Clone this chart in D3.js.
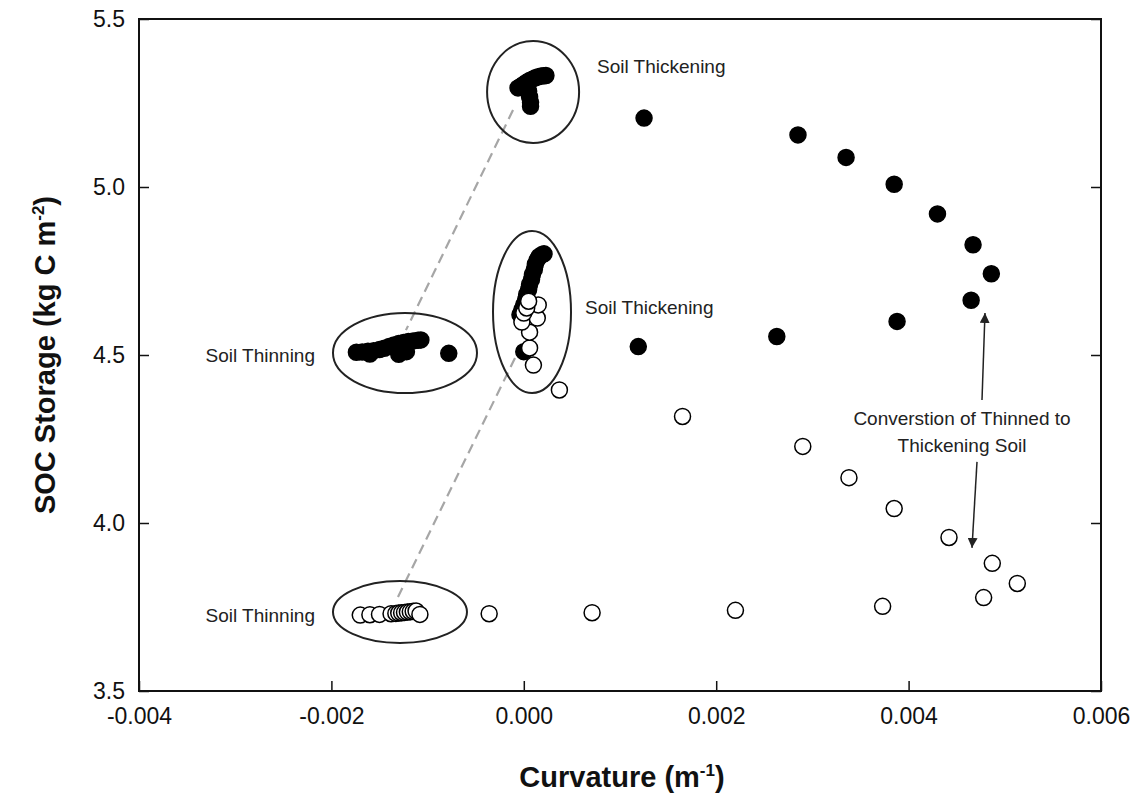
<!DOCTYPE html>
<html>
<head>
<meta charset="utf-8">
<script src="https://cdn.jsdelivr.net/npm/d3@7"></script>
<style>
  html, body { margin: 0; padding: 0; background: #fff; }
  svg { display: block; font-family: "Liberation Sans", Arial, sans-serif; }
</style>
</head>
<body>
<svg id="chart" width="1143" height="801"></svg>
<script>
// Curvature (m^-1) vs SOC storage (kg C m^-2)
// Solid markers: first scenario; hollow markers: second scenario.
const solidX = [
  // thickening cluster near 5.3
  -0.00006, -0.00003, 0.00000, 0.00003, 0.00006, 0.00009, 0.00012, 0.00015, 0.00018, 0.00021, 0.00023,
  0.00005, 0.00006, 0.00007, 0.00007,
  // outer arc
  0.00125, 0.00285, 0.00335, 0.00385, 0.00430, 0.00467, 0.00486, 0.00465, 0.00388, 0.00263, 0.00119, 0.00000,
  // thickening stack near 4.7
  -0.00004, -0.00002, 0.00000, 0.00002, 0.00003, 0.00005, 0.00006, 0.00008, 0.00009, 0.00011, 0.00012, 0.00014, 0.00016, 0.00019, 0.00021,
  // thinning cluster near 4.5
  -0.00174, -0.00168, -0.00162, -0.00156, -0.00150, -0.00145, -0.00140, -0.00135, -0.00130, -0.00125, -0.00120, -0.00115, -0.00110, -0.00107,
  -0.00160, -0.00130, -0.00122, -0.00078
];
const solidY = [
  5.295, 5.300, 5.306, 5.312, 5.317, 5.321, 5.325, 5.328, 5.330, 5.331, 5.332,
  5.285, 5.268, 5.252, 5.240,
  5.205, 5.155, 5.088, 5.008, 4.920, 4.828, 4.742, 4.663, 4.600, 4.555, 4.525, 4.510,
  4.620, 4.635, 4.650, 4.665, 4.680, 4.695, 4.710, 4.725, 4.740, 4.755, 4.770, 4.783, 4.793, 4.799, 4.801,
  4.508, 4.509, 4.511, 4.513, 4.516, 4.520, 4.525, 4.530, 4.534, 4.537, 4.540, 4.542, 4.544, 4.545,
  4.503, 4.502, 4.510, 4.505
];

const hollowX = [
  // thinning cluster near 3.73
  -0.00170, -0.00160, -0.00150, -0.00138, -0.00133, -0.00130, -0.00127, -0.00124, -0.00121, -0.00118, -0.00115, -0.00112, -0.00108,
  // outer arc
  -0.00036, 0.00071, 0.00220, 0.00373, 0.00478, 0.00513, 0.00487, 0.00442, 0.00385, 0.00338, 0.00290, 0.00165, 0.00037,
  // thickening stack near 4.6
  0.00010, 0.00006, 0.00006, -0.00002, 0.00014, 0.00015, 0.00000, 0.00003, 0.00005
];
const hollowY = [
  3.726, 3.727, 3.728, 3.730, 3.731, 3.732, 3.733, 3.734, 3.735, 3.736, 3.737, 3.738, 3.728,
  3.730, 3.733, 3.740, 3.752, 3.778, 3.820, 3.880, 3.957, 4.043, 4.135, 4.228, 4.317, 4.396,
  4.470, 4.521, 4.568, 4.598, 4.610, 4.649, 4.625, 4.640, 4.660
];

const xTicks = [-0.004, -0.002, 0.000, 0.002, 0.004, 0.006];
const yTicks = [3.5, 4.0, 4.5, 5.0, 5.5];

// Annotation ellipses: centre in data units, radii in pixels
const ellipseCx = [0.0000966, 0.0000854, -0.001235, -0.001287];
const ellipseCy = [5.283, 4.628, 4.506, 3.735];
const ellipseRx = [46, 39, 72, 67];
const ellipseRy = [51, 81, 40, 31];

// Dashed connectors between thickening and thinning clusters
const linkX1 = [-0.000112, -0.0000915];
const linkY1 = [5.229, 4.491];
const linkX2 = [-0.001225, -0.001308];
const linkY2 = [4.574, 3.780];

// Conversion arrows (from -> tip)
const arrowX1 = [0.004763, 0.004711];
const arrowY1 = [4.366, 4.182];
const arrowX2 = [0.004794, 0.004659];
const arrowY2 = [4.625, 3.926];

const svg = d3.select("#chart");
const plotL = 139, plotR = 1101, plotT = 19, plotB = 691;

const x = d3.scaleLinear().domain([-0.004, 0.006]).range([plotL, plotR]);
const y = d3.scaleLinear().domain([3.5, 5.5]).range([plotB, plotT]);

svg.append("defs").append("marker")
  .attr("id", "head")
  .attr("viewBox", "0 0 10 10")
  .attr("refX", 10).attr("refY", 5)
  .attr("markerWidth", 10).attr("markerHeight", 10)
  .attr("markerUnits", "userSpaceOnUse")
  .attr("orient", "auto")
  .append("path").attr("d", "M0,0 L10,5 L0,10 z").attr("fill", "#222");

// Axes with inward ticks
const xAxis = svg.append("g")
  .attr("transform", `translate(0,${plotB})`)
  .call(d3.axisBottom(x).tickValues(xTicks).tickSizeInner(-10).tickSizeOuter(0)
    .tickPadding(17).tickFormat(d => d.toFixed(3)));
const yAxis = svg.append("g")
  .attr("transform", `translate(${plotL},0)`)
  .call(d3.axisLeft(y).tickValues(yTicks).tickSizeInner(-10).tickSizeOuter(0)
    .tickPadding(14).tickFormat(d => d.toFixed(1)));
const yAxisR = svg.append("g")
  .attr("transform", `translate(${plotR},0)`)
  .call(d3.axisRight(y).tickValues(yTicks).tickSizeInner(-10).tickSizeOuter(0)
    .tickFormat(() => ""));

[xAxis, yAxis, yAxisR].forEach(g => {
  g.select(".domain").remove();
  g.selectAll(".tick line").attr("stroke", "#111").attr("stroke-width", 1.5);
  g.selectAll(".tick text")
    .attr("fill", "#111")
    .style("font-size", "23px")
    .style("font-family", "\"Liberation Sans\", Arial, sans-serif");
});

svg.append("rect")
  .attr("x", plotL).attr("y", plotT)
  .attr("width", plotR - plotL).attr("height", plotB - plotT)
  .attr("fill", "none").attr("stroke", "#111").attr("stroke-width", 2);

// Dashed connectors
svg.append("g").selectAll("line")
  .data(d3.range(linkX1.length))
  .join("line")
  .attr("x1", i => x(linkX1[i])).attr("y1", i => y(linkY1[i]))
  .attr("x2", i => x(linkX2[i])).attr("y2", i => y(linkY2[i]))
  .attr("stroke", "#a6a6a6").attr("stroke-width", 2.2)
  .attr("stroke-dasharray", "10,6");

// Points
const r = 8;
svg.append("g").selectAll("circle")
  .data(d3.range(solidX.length))
  .join("circle")
  .attr("cx", i => x(solidX[i])).attr("cy", i => y(solidY[i]))
  .attr("r", r).attr("fill", "#000").attr("stroke", "#000").attr("stroke-width", 1.5);

svg.append("g").selectAll("circle")
  .data(d3.range(hollowX.length))
  .join("circle")
  .attr("cx", i => x(hollowX[i])).attr("cy", i => y(hollowY[i]))
  .attr("r", r).attr("fill", "#fff").attr("stroke", "#000").attr("stroke-width", 1.5);

// Ellipses
svg.append("g").selectAll("ellipse")
  .data(d3.range(ellipseCx.length))
  .join("ellipse")
  .attr("cx", i => x(ellipseCx[i])).attr("cy", i => y(ellipseCy[i]))
  .attr("rx", i => ellipseRx[i]).attr("ry", i => ellipseRy[i])
  .attr("fill", "none").attr("stroke", "#222").attr("stroke-width", 2);

// Arrows
svg.append("g").selectAll("line")
  .data(d3.range(arrowX1.length))
  .join("line")
  .attr("x1", i => x(arrowX1[i])).attr("y1", i => y(arrowY1[i]))
  .attr("x2", i => x(arrowX2[i])).attr("y2", i => y(arrowY2[i]))
  .attr("stroke", "#222").attr("stroke-width", 1.5)
  .attr("marker-end", "url(#head)");

// Text labels
const notes = svg.append("g").attr("fill", "#222").style("font-size", "19px");
notes.append("text").attr("x", 597).attr("y", 73).text("Soil Thickening");
notes.append("text").attr("x", 585).attr("y", 314).text("Soil Thickening");
notes.append("text").attr("x", 315).attr("y", 362).attr("text-anchor", "end").text("Soil Thinning");
notes.append("text").attr("x", 315).attr("y", 622).attr("text-anchor", "end").text("Soil Thinning");
notes.append("text").attr("x", 962).attr("y", 425).attr("text-anchor", "middle").text("Converstion of Thinned to");
notes.append("text").attr("x", 962).attr("y", 452).attr("text-anchor", "middle").text("Thickening Soil");

// Axis titles
const xt = svg.append("text")
  .attr("x", 622).attr("y", 787)
  .attr("text-anchor", "middle")
  .style("font-size", "29px").style("font-weight", "bold").attr("fill", "#111");
xt.append("tspan").text("Curvature (m");
xt.append("tspan").attr("dy", -11).style("font-size", "17px").text("-1");
xt.append("tspan").attr("dy", 11).text(")");

const yt = svg.append("text")
  .attr("transform", "translate(55,355) rotate(-90)")
  .attr("text-anchor", "middle")
  .style("font-size", "29px").style("font-weight", "bold").attr("fill", "#111");
yt.append("tspan").text("SOC Storage (kg C m");
yt.append("tspan").attr("dy", -11).style("font-size", "17px").text("-2");
yt.append("tspan").attr("dy", 11).text(")");
</script>
</body>
</html>
